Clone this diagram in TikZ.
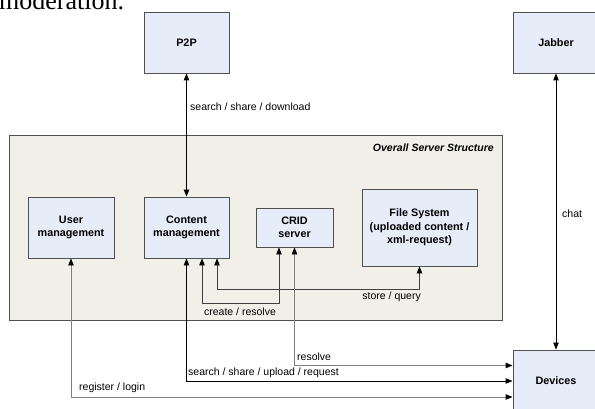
\documentclass[tikz,border=0pt]{standalone}
\usepackage{fontspec}
\setmainfont{Liberation Sans}
\newfontfamily\serifx{Liberation Serif}
\usetikzlibrary{arrows.meta,calc}
\definecolor{boxblue}{HTML}{E6ECF8}
\definecolor{srvbg}{HTML}{F0F0E8}
\definecolor{edgegray}{HTML}{505050}
\definecolor{linegray}{HTML}{808080}
\definecolor{darkline}{HTML}{404040}
\begin{document}
\begin{tikzpicture}[x=1pt,y=-1pt,
  box/.style={draw=edgegray, fill=boxblue, line width=0.9pt, align=center,
    font=\fontsize{10.8}{12.8}\selectfont\bfseries, inner sep=0pt},
  lbl/.style={font=\fontsize{10.5}{12}\selectfont, inner sep=0pt},
  tip/.style={Triangle[length=7pt,width=5.5pt,color=black]},
  conn/.style={line width=0.9pt, {Triangle[length=7pt,width=5.5pt,color=black]}-{Triangle[length=7pt,width=5.5pt,color=black]}},
]
\useasboundingbox (0,0) rectangle (595,409);
\clip (0,0) rectangle (595,409);
\node[anchor=base west, inner sep=0pt, font=\serifx\fontsize{26}{30}\selectfont] (mod) at (-1,9.5) {moderation.};
\node[draw=edgegray, fill=srvbg, line width=0.9pt, minimum width=493, minimum height=185, inner sep=0pt] (srv) at (255.5,227.5) {};
\node[anchor=east, inner sep=0pt, font=\fontsize{10.5}{12}\selectfont\bfseries\itshape] (srvtitle) at (494,148) {Overall Server Structure};

\node[box, minimum width=85, minimum height=61] (p2p) at (186.5,42.5) {P2P};
\node[box, minimum width=86, minimum height=61] (jab) at (556,42.5) {Jabber};
\node[box, minimum width=86, minimum height=61] (usr) at (71,227.5) {User\\management};
\node[box, minimum width=85, minimum height=61] (cnt) at (186.5,227.5) {Content\\management};
\node[box, minimum width=77, minimum height=39] (crid) at (294.5,227.5) {CRID\\server};
\node[box, minimum width=115, minimum height=77, font=\fontsize{10.8}{13.5}\selectfont\bfseries] (fs) at (419.5,227.5) {File System\\(uploaded content /\\xml-request)};
\node[box, minimum width=86, minimum height=62] (dev) at (556,381) {Devices};

\draw[conn] (p2p) -- (cnt);
\draw[conn] (jab) -- (dev);
\draw[conn,linegray] (usr.south) |- ([yshift=-16]dev.west);
\draw[conn] (cnt.south) |- (dev.west);
\draw[conn,darkline] ([xshift=15.5]cnt.south) -- ++(0,45) -| ([xshift=-15.5]crid.south);
\draw[conn,darkline] ([xshift=30.5]cnt.south) -- ++(0,31) -| (fs.south);
\draw[conn,linegray] (crid.south) |- ([yshift=15.5]dev.west);

\node[lbl, anchor=west] (l1) at (190,107) {search / share / download};
\node[lbl, anchor=west] (l2) at (562,214) {chat};
\node[lbl] (l3) at (240,312) {create / resolve};
\node[lbl, anchor=east] (l4) at (421,297) {store / query};
\node[lbl, anchor=west] (l5) at (297,357) {resolve};
\node[lbl, anchor=west] (l6) at (188,373) {search / share / upload / request};
\node[lbl, anchor=west] (l7) at (79,388) {register / login};
\end{tikzpicture}
\end{document}
